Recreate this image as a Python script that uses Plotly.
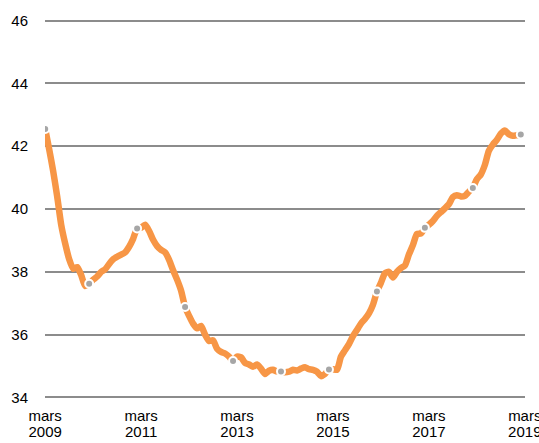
import plotly.graph_objects as go

# Monthly values, March 2009 (index 0) to February 2019 (index 119)
values = [
    42.55, 41.9, 41.2, 40.4, 39.5, 38.9, 38.4, 38.1, 38.15, 37.9,
    37.55, 37.62, 37.75, 37.85, 38.0, 38.08, 38.25, 38.4, 38.48, 38.55,
    38.62, 38.8, 39.05, 39.38, 39.4, 39.5, 39.3, 39.02, 38.82, 38.7,
    38.62, 38.38, 38.05, 37.75, 37.4, 36.88, 36.6, 36.35, 36.2, 36.28,
    36.0, 35.8, 35.82, 35.55, 35.45, 35.4, 35.3, 35.16, 35.3, 35.28,
    35.1, 35.05, 34.98, 35.05, 34.92, 34.75, 34.85, 34.88, 34.83, 34.83,
    34.8, 34.82, 34.88, 34.86, 34.92, 34.96, 34.9, 34.88, 34.82, 34.68,
    34.75, 34.89, 34.9, 34.88, 35.3, 35.5, 35.7, 35.95, 36.15, 36.35,
    36.5, 36.68, 36.95, 37.37, 37.65, 37.95, 38.0, 37.82, 38.0, 38.12,
    38.2, 38.55, 38.85, 39.2, 39.22, 39.4, 39.5, 39.62, 39.78, 39.9,
    40.02, 40.15, 40.38, 40.44, 40.4, 40.42, 40.55, 40.67, 40.95, 41.1,
    41.4, 41.85, 42.05, 42.2, 42.4, 42.5, 42.38, 42.33, 42.35, 42.37,
]
months = list(range(len(values)))

# Annual marker points (indices into the monthly series)
marker_idx = [0, 11, 23, 35, 47, 59, 71, 83, 95, 107, 119]

tick_vals = [0, 24, 48, 72, 96, 120]
tick_month = ["mars"] * 6
tick_year = ["2009", "2011", "2013", "2015", "2017", "2019"]
y_ticks = [34, 36, 38, 40, 42, 44, 46]

fig = go.Figure()
fig.add_trace(go.Scatter(
    x=months, y=values, mode="lines",
    line=dict(color="#F79646", width=6.5, shape="spline", smoothing=0.6),
    hoverinfo="skip", showlegend=False,
))
fig.add_trace(go.Scatter(
    x=[months[i] for i in marker_idx], y=[values[i] for i in marker_idx],
    xaxis="x2", mode="markers",
    marker=dict(color="#A6A6A6", size=8, line=dict(color="white", width=2)),
    showlegend=False,
))

fig.update_layout(
    width=539, height=443,
    margin=dict(l=45, r=14, t=17.5, b=42.5),
    paper_bgcolor="white", plot_bgcolor="white",
    font=dict(family="Liberation Sans, Arial, sans-serif", size=15, color="#000000"),
    xaxis=dict(
        range=[-0.05, 120.05], tickvals=tick_vals, ticktext=tick_month,
        showgrid=False, zeroline=False, showline=False, ticks="",
        ticklabelstandoff=5, ticklabeloverflow="allow", automargin=False,
    ),
    xaxis2=dict(
        overlaying="x", matches="x", side="bottom", anchor="y",
        tickvals=tick_vals, ticktext=tick_year,
        showgrid=False, zeroline=False, showline=False, ticks="",
        ticklabelstandoff=21, ticklabeloverflow="allow", automargin=False,
    ),
    yaxis=dict(
        range=[33.92, 46.08], tickvals=y_ticks,
        showgrid=True, gridcolor="#8C8C8C", gridwidth=1.5,
        zeroline=False, showline=False, ticks="",
        ticklabelstandoff=16, automargin=False,
    ),
)

fig.write_html(
    "out.html",
    config={"displayModeBar": False},
    post_script="document.body.style.margin='0';"
                "document.documentElement.style.overflow='hidden';"
                "document.body.style.overflow='hidden';",
)
